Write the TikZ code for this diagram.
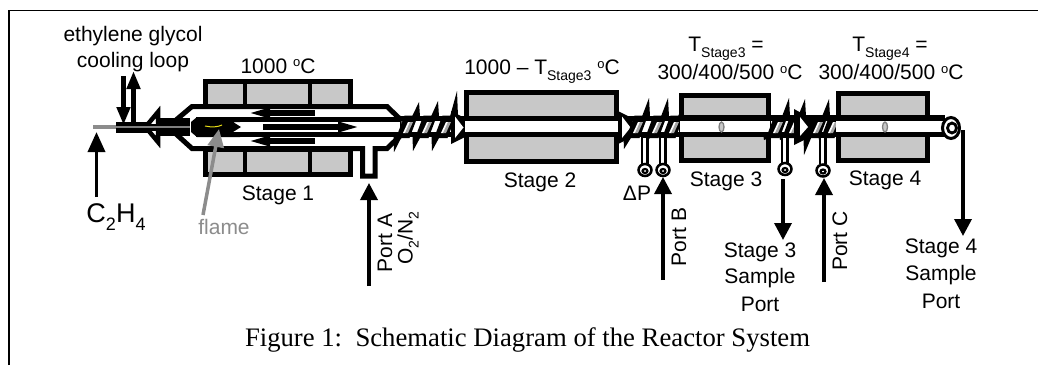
\documentclass[tikz,border=0pt]{standalone}
\usepackage{fontspec}
\setmainfont{Liberation Sans}
\newfontfamily\capfont{Liberation Serif}
\usetikzlibrary{arrows.meta}
\definecolor{furn}{HTML}{C8C8C8}
\definecolor{flamegray}{HTML}{8C8C8C}
\tikzset{
  x=1pt,y=-1pt,
  lab/.style={font=\fontsize{21}{24}\selectfont,inner sep=0pt,align=center},
  flowarrow/.style={line width=3.5pt,-{Triangle[length=17pt,width=17pt]},shorten >=0pt},
  cool/.style={line width=5pt,-{Triangle[length=18pt,width=13pt]}},
  inner arrow/.style={line width=5.5pt,-{Triangle[length=25pt,width=9pt]}},
  wall/.style={line width=5.5pt},
  furnace/.style={line width=5pt,fill=furn,miter limit=10},
}
\newcommand{\tsup}[1]{\raisebox{0.3em}{\fontsize{13}{13}\selectfont #1}}
\newcommand{\tsub}[1]{\raisebox{-0.28em}{\fontsize{14}{14}\selectfont #1}}
% coil fitting centred at x; second argument top spike height y, third bottom spike y
\newcommand{\coil}[3]{%
  \fill (#1-11,138) -- (#1+2.5,138) -- (#1+11,115.5) -- (#1-2.5,115.5) -- cycle;
  \fill (#1+5,116.5) -- (#1+13,116.5) -- (#1+12,#2) -- cycle;
  \fill (#1-13.5,137) -- (#1-5.5,137) -- (#1-13,#3) -- cycle;
  \fill[white] (#1-4,133) -- (#1-1.5,133) -- (#1+3.5,122) -- (#1+1,122) -- cycle;
  \fill[gray!70] (#1-2,133) -- (#1+1,133) -- (#1+6,122) -- (#1+3,122) -- cycle;
}
% cone flange
\newcommand{\cone}[2]{%
  \fill (#1,111) -- (#1+#2,118) -- (#1+#2,137) -- (#1,144) -- cycle;
  \fill[white] (#1+4,116.5) -- (#1+4,138) -- (#1+#2-1.5,127.5) -- cycle;
}
% port: tube from coil and ring
\newcommand{\port}[3]{%
  \draw[line width=7.5pt] (#1,#2) -- (#1,164);
  \draw[white,line width=3pt] (#1-1,138) -- (#1-1,164);
  \draw[line width=2.5pt,fill=white] (#1,#3) ellipse[x radius=6.5,y radius=6];
  \draw[line width=2.2pt] (#1,#3+1) ellipse[x radius=2.5,y radius=2];
}
\begin{document}
\begin{tikzpicture}
\useasboundingbox (0,0) rectangle (1038,365);
\fill[white] (0,0) rectangle (1038,365);
% frame
\coordinate (fbl) at (9,365);
\coordinate (ftl) at (9,10.5);
\coordinate (ftr) at (1038,10.5);
\draw[line width=1.4pt] (fbl) -- (ftl) -- (ftr);

% ---- Stage 1 furnace
\draw[furnace] (205.5,81) rectangle (350,106);
\draw[furnace] (205.5,149) rectangle (350,174);
\draw[line width=4.5pt] (245,81) -- (245,106) (310,81) -- (310,106) (245,149) -- (245,174) (310,149) -- (310,174);
% outer quartz tube with port A
\draw[line width=5pt,fill=white,miter limit=10] (176,120) -- (192,106.5) -- (387,106.5) -- (399,118) -- (399,137) -- (387,148.5) -- (375,148.5) -- (375,176) -- (362.5,176) -- (362.5,148.5) -- (192,148.5) -- (176,134) -- cycle;
% inner tube
\draw[wall] (196,119.5) -- (400,119.5);
\draw[wall] (196,134.5) -- (400,134.5);
\fill[white] (200,122) rectangle (400,132);
% burner
\fill (197,117) -- (240,117) -- (240,122) -- (233,122) -- (241,127) -- (233,132) -- (240,132) -- (240,137) -- (197,137) -- (191,132) -- (191,122) -- cycle;
\draw[yellow!90!black,line width=1pt] (205,126) .. controls (212,127.5) and (218,127) .. (222,125);
% inlet
\fill (116,121.5) rectangle (162,132.5);
\fill (158,118) rectangle (190,136);
\draw[line width=4.5pt,fill=white,miter limit=10] (145.5,127) -- (158,112) -- (158,142) -- cycle;
\fill (147,124) rectangle (190,131);
\coordinate (gasL) at (93,127);
\coordinate (gasR) at (190,127);
\draw[flamegray,line width=4pt] (gasL) -- (116,127);
\draw[gray,line width=1.3pt] (116,127) -- (gasR);
% flow arrows in reactor
\coordinate (uR) at (315,113); \coordinate (uL) at (245,113);
\coordinate (lR) at (315,141); \coordinate (lL) at (245,141);
\coordinate (cL) at (263,127); \coordinate (cR) at (363,127);
\draw[inner arrow] (uR) -- (uL);
\draw[inner arrow] (lR) -- (lL);
\draw[inner arrow] (cL) -- (cR);
% cooling arrows
\coordinate (coolA) at (123.5,76); \coordinate (coolAe) at (123.5,125);
\coordinate (coolB) at (133.5,122); \coordinate (coolBe) at (133.5,71);
\draw[cool] (coolA) -- (coolAe);
\draw[cool] (coolB) -- (coolBe);

% ---- fittings Stage 1 - 2
\draw[wall] (397,118.5) -- (470,118.5);
\draw[wall] (397,134.5) -- (470,134.5);
\coil{407}{102}{152}
\coil{426}{101}{151}
\coil{445}{91}{151}
\cone{451}{14}

% ---- Stage 2 furnace
\draw[furnace] (466.5,92) rectangle (616.5,161);
\fill[white] (464.5,121) rectangle (618.5,132);
\draw[wall] (464,118.5) -- (619,118.5);
\draw[wall] (464,134.5) -- (619,134.5);

% ---- fittings Stage 2 - 3
\draw[wall] (619,118.5) -- (682,118.5);
\draw[wall] (619,134.5) -- (682,134.5);
\cone{618}{14}
\coil{637}{98}{149}
\coil{656}{98}{147}
\coil{673}{100}{146}
\port{645}{135}{170}
\port{663}{135}{170}

% ---- Stage 3 furnace
\draw[furnace] (681.5,95) rectangle (768,160);
\fill[white] (680,121) rectangle (770,132);
\draw[wall] (679,118) -- (770,118);
\draw[wall] (679,134.5) -- (770,134.5);
\draw[gray,fill=furn,line width=1.3pt] (721.5,127) ellipse[x radius=2.5,y radius=5];

% ---- fittings Stage 3 - 4
\draw[wall] (768,118) -- (838,118);
\draw[wall] (768,134.5) -- (838,134.5);
\coil{777}{98}{140}
\coil{793}{99}{140}
\fill (794,109) -- (814,120) -- (814,135) -- (794,145) -- cycle;
\fill[white] (800,117) -- (800,136) -- (808,127) -- cycle;
\coil{817}{99}{155}
\coil{832}{99}{140}
\port{785}{135}{169}
\port{823}{135}{170.5}

% ---- Stage 4 furnace
\draw[furnace] (838,93.5) rectangle (927,160);
\fill[white] (836,121) rectangle (950,132);
\draw[wall] (836,118) -- (945,118);
\draw[wall] (836,134.5) -- (945,134.5);
\draw[gray,fill=furn,line width=1.3pt] (885,127) ellipse[x radius=2.5,y radius=5];
% tube end
\fill[white] (936,121) rectangle (946,132);
\draw[line width=3pt,fill=white] (951,128) ellipse[x radius=8.5,y radius=10.5];
\draw[line width=2.8pt] (952,128) ellipse[x radius=4.5,y radius=5];

% ---- labels
\node[lab] (eg) at (133,36) {ethylene glycol};
\node[lab] (cl) at (133,62) {cooling loop};
\node[lab,font=\fontsize{27}{30}\selectfont] (ch) at (116,217) {C\tsub{\fontsize{18}{18}\selectfont 2}H\tsub{\fontsize{18}{18}\selectfont 4}};
\node[lab,text=flamegray] (fl) at (224,227) {flame};
\node[lab] (t1) at (278,66) {1000 \tsup{o}C};
\node[lab] (s1) at (278,195) {Stage 1};
\node[lab] (t2) at (542,72) {1000 -- T\tsub{Stage3} \tsup{o}C};
\node[lab] (s2) at (540,182) {Stage 2};
\node[lab] (t3a) at (726,49) {T\tsub{Stage3} =};
\node[lab] (t3) at (730,72) {300/400/500 \tsup{o}C};
\node[lab] (s3) at (726,181) {Stage 3};
\node[lab] (t4a) at (890,49) {T\tsub{Stage4} =};
\node[lab] (t4) at (891,72) {300/400/500 \tsup{o}C};
\node[lab] (s4) at (885,180) {Stage 4};
\node[lab] (dp) at (637,193) {ΔP};
\node[lab,rotate=90] (pa) at (385,243) {Port A};
\node[lab,rotate=90] (on) at (408,238) {O\tsub{2}/N\tsub{2}};
\node[lab,rotate=90] (pb) at (679,237) {Port B};
\node[lab,rotate=90] (pc) at (840,241) {Port C};
\node[lab] (sp3) at (760,252) {Stage 3};
\node[lab] (sp3b) at (760,278) {Sample};
\node[lab] (sp3c) at (760,304) {Port};
\node[lab] (sp4) at (941,248) {Stage 4};
\node[lab] (sp4b) at (941,275) {Sample};
\node[lab] (sp4c) at (941,301) {Port};
\node[inner sep=0pt,font=\capfont\fontsize{26.7}{30}\selectfont] (cap) at (527.5,340) {Figure 1:\ \ Schematic Diagram of the Reactor System};

% ---- arrows
\coordinate (aC) at (96.5,197); \coordinate (aCe) at (96.5,132);
\draw[flowarrow,-{Triangle[length=20pt,width=17pt]}] (aC) -- (aCe);
\coordinate (aF) at (203,215); \coordinate (aFe) at (219,129);
\draw[flamegray,line width=3.5pt,-{Triangle[length=18pt,width=16pt]}] (aF) -- (aFe);
\coordinate (aA) at (369,286); \coordinate (aAe) at (369,183);
\draw[flowarrow] (aA) -- (aAe);
\coordinate (aB) at (663,280); \coordinate (aBe) at (663,177);
\draw[flowarrow] (aB) -- (aBe);
\coordinate (aP) at (824,282); \coordinate (aPe) at (824,178);
\draw[flowarrow] (aP) -- (aPe);
\coordinate (aS) at (783,179); \coordinate (aSe) at (783,240);
\draw[flowarrow] (aS) -- (aSe);
\coordinate (aT) at (963,130); \coordinate (aTe) at (963,236);
\draw[flowarrow] (aT) -- (aTe);
\end{tikzpicture}
\end{document}
